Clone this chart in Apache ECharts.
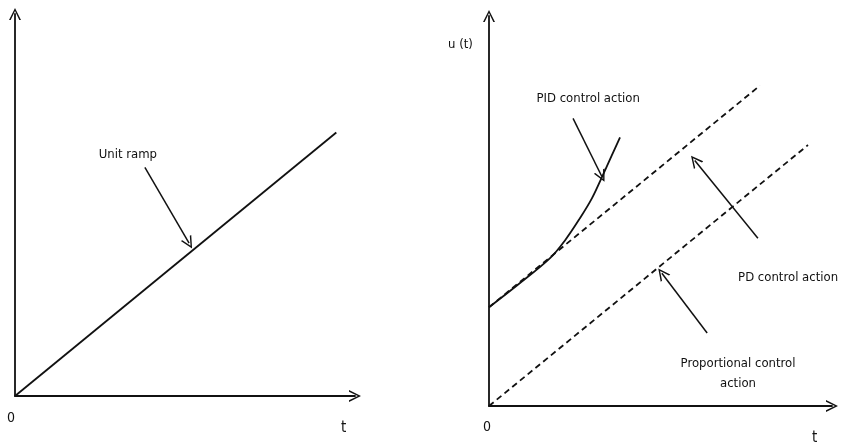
<!DOCTYPE html>
<html>
<head>
<meta charset="utf-8">
<script src="https://cdn.jsdelivr.net/npm/echarts@6/dist/echarts.min.js"></script>
<style>html,body{margin:0;padding:0;background:#fff;}#c{width:844px;height:445px;}</style>
</head>
<body>
<div id="c"></div>
<script>
// ---- data (t, u) in arbitrary units ----
const unitRamp = [[0, 0], [9.45, 9.45]];
const proportional = [[0, 0], [9.3, 9.3]];
const pdAction = [[0, 3.52], [7.9, 11.42]];
const pidAction = [[0, 3.52], [0.85, 4.33], [1.78, 5.27], [2.22, 5.91], [2.65, 6.69], [3.0, 7.40], [3.29, 8.15], [3.58, 8.93], [3.82, 9.57]];

// annotation arrows: [from, to] in data units
const rampArrow = [[3.82, 8.2], [5.12, 5.48]];
const pidArrow = [[2.45, 10.25], [3.29, 8.18]];
const pdArrow = [[7.84, 5.98], [6.0, 8.75]];
const propArrow = [[6.36, 2.6], [5.04, 4.73]];

// annotation labels
const leftLabels = [{ name: 'Unit ramp', value: [3.32, 8.64] }];
const rightLabels = [
  { name: 'PID control action', value: [2.89, 10.96] },
  { name: 'PD control action', value: [8.72, 4.59] },
  { name: 'Proportional control\naction', value: [7.26, 1.17] }
];

const INK = '#111111';
const FONT = '"DejaVu Sans Condensed", "DejaVu Sans", sans-serif';
const chevron = 'path://M0,10 L5,0 L10,10 L8.6,10 L5,2.6 L1.4,10 Z';
const LW = 1.8;

function axisCommon(max, gridIndex) {
  return {
    type: 'value', min: 0, max: max, gridIndex: gridIndex,
    splitLine: { show: false }, axisTick: { show: false }, axisLabel: { show: false },
    axisLine: { show: true, onZero: false, symbol: ['none', chevron], symbolSize: [13, 12],
      lineStyle: { color: INK, width: LW } }
  };
}

const labelStyle = { show: true, position: 'inside', formatter: '{b}', color: INK, fontFamily: FONT,
  fontSize: 13, lineHeight: 20, align: 'center', opacity: 1 };

const chart = echarts.init(document.getElementById('c'), null, { renderer: 'canvas' });
chart.setOption({
  backgroundColor: '#ffffff',
  animation: false,
  grid: [
    { left: 15, right: 489, top: 14, bottom: 49 },
    { left: 489, right: 12, top: 16, bottom: 39 }
  ],
  xAxis: [axisCommon(10, 0), axisCommon(10, 1)],
  yAxis: [axisCommon(13.7, 0), axisCommon(13.9, 1)],
  series: [
    { type: 'line', xAxisIndex: 0, yAxisIndex: 0, data: unitRamp, showSymbol: false,
      lineStyle: { color: INK, width: LW } },
    { type: 'line', xAxisIndex: 1, yAxisIndex: 1, data: proportional, showSymbol: false,
      lineStyle: { color: INK, width: LW, type: [6, 4] } },
    { type: 'line', xAxisIndex: 1, yAxisIndex: 1, data: pdAction, showSymbol: false,
      lineStyle: { color: INK, width: LW, type: [6, 4] } },
    { type: 'line', xAxisIndex: 1, yAxisIndex: 1, data: pidAction, showSymbol: false,
      smooth: 0.35,
      lineStyle: { color: INK, width: LW } },
    { type: 'lines', coordinateSystem: 'cartesian2d', xAxisIndex: 0, yAxisIndex: 0,
      symbol: ['none', chevron], symbolSize: [11, 12],
      lineStyle: { color: INK, width: 1.5, opacity: 1 },
      data: [{ coords: rampArrow }] },
    { type: 'lines', coordinateSystem: 'cartesian2d', xAxisIndex: 1, yAxisIndex: 1,
      symbol: ['none', chevron], symbolSize: [11, 12],
      lineStyle: { color: INK, width: 1.5, opacity: 1 },
      data: [{ coords: pidArrow }, { coords: pdArrow }, { coords: propArrow }] },
    { type: 'scatter', xAxisIndex: 0, yAxisIndex: 0, data: leftLabels, symbolSize: 0,
      itemStyle: { color: 'transparent' }, silent: true, label: labelStyle },
    { type: 'scatter', xAxisIndex: 1, yAxisIndex: 1, data: rightLabels, symbolSize: 0,
      itemStyle: { color: 'transparent' }, silent: true, label: labelStyle }
  ],
  graphic: [
    { type: 'text', left: 7, top: 411, style: { text: '0', fill: INK, font: '14px ' + FONT } },
    { type: 'text', left: 341, top: 421, style: { text: 't', fill: INK, font: '15px ' + FONT } },
    { type: 'text', left: 483, top: 420, style: { text: '0', fill: INK, font: '14px ' + FONT } },
    { type: 'text', left: 812, top: 431, style: { text: 't', fill: INK, font: '15px ' + FONT } },
    { type: 'text', left: 448, top: 38, style: { text: 'u (t)', fill: INK, font: '13px ' + FONT } }
  ]
});
</script>
</body>
</html>
